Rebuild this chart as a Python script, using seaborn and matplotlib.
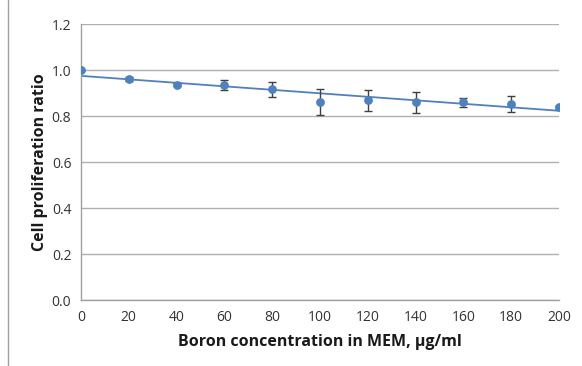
import numpy as np
import pandas as pd
import matplotlib
matplotlib.use("Agg")
import matplotlib.pyplot as plt
import seaborn as sns
from matplotlib.lines import Line2D

conc = [0, 20, 40, 60, 80, 100, 120, 140, 160, 180, 200]
ratio = [1.000, 0.960, 0.936, 0.934, 0.916, 0.862, 0.869, 0.859, 0.859, 0.852, 0.838]
err = [0.0, 0.008, 0.006, 0.022, 0.034, 0.056, 0.046, 0.045, 0.020, 0.036, 0.006]

df = pd.DataFrame({"conc": conc, "ratio": ratio, "err": err})

sns.set_theme(style="white")
plt.rcParams['font.family'] = ['Open Sans', 'DejaVu Sans']

fig = plt.figure(figsize=(5.82, 3.66), dpi=100)
ax = fig.add_axes([81/582, 1-300/366, (559-81)/582, (300-24)/366])

blue = "#4F81BD"
ax.errorbar(df["conc"], df["ratio"], yerr=df["err"], fmt="none",
            ecolor="#404040", elinewidth=1.0, capsize=3, capthick=1.0, zorder=3)
sns.regplot(data=df, x="conc", y="ratio", ax=ax, scatter=False, ci=None,
            truncate=True, line_kws=dict(color=blue, lw=1.3), )
sns.scatterplot(data=df, x="conc", y="ratio", ax=ax, color=blue, s=40,
                edgecolor=blue, linewidth=0, zorder=4)

ax.set_xlim(0, 200)
ax.set_ylim(0, 1.2)
ax.set_xticks(conc)
ax.set_yticks(np.arange(0, 1.21, 0.2))
ax.set_yticklabels([f"{v:.1f}" for v in np.arange(0, 1.21, 0.2)])
ax.yaxis.grid(True, color="#B0B0B0", lw=1.0)
ax.set_axisbelow(True)
for s in ["top", "right"]:
    ax.spines[s].set_visible(False)
for s in ["left", "bottom"]:
    ax.spines[s].set_color("#A0A0A0")
    ax.spines[s].set_linewidth(1.0)
ax.tick_params(axis="x", direction="out", length=4, color="#A0A0A0", labelsize=10, labelcolor="#333333", pad=3)
ax.tick_params(axis="y", direction="out", length=4, color="#A0A0A0", labelsize=10, labelcolor="#333333", pad=3)
ax.set_xlabel("Boron concentration in MEM, µg/ml", fontsize=11.5, fontweight="bold", color="#1a1a1a", labelpad=7)
ax.set_ylabel("Cell proliferation ratio", fontsize=11.5, fontweight="bold", color="#1a1a1a")
ax.yaxis.set_label_coords(-0.068, 0.5)

fig.add_artist(Line2D([8/582, 8/582], [0, 1], transform=fig.transFigure, color="#A0A0A0", lw=1.0))

fig.savefig("out.png", dpi=100)
